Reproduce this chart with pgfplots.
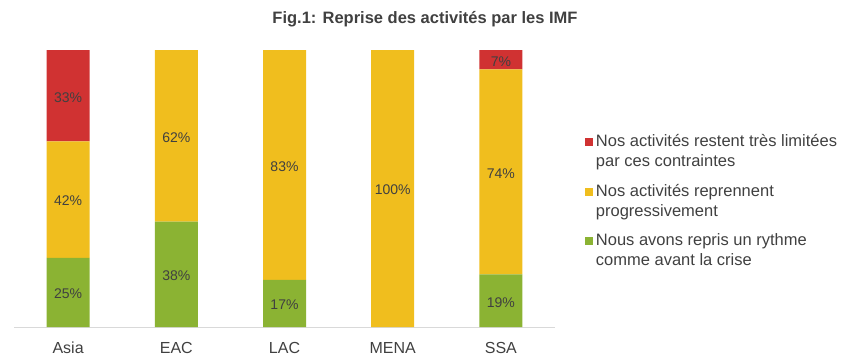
\documentclass[border=0pt]{standalone}
\usepackage{pgfplots}
\pgfplotsset{compat=1.18}
\usepackage{fontspec}
\setmainfont{Liberation Sans}
\definecolor{cred}{HTML}{D03232}
\definecolor{cyel}{HTML}{F0BE1E}
\definecolor{cgrn}{HTML}{8BB333}
\definecolor{ctxt}{HTML}{404040}
\definecolor{caxis}{HTML}{D9D9D9}
\pgfplotstableread{
x y
0 25
1 38
2 17
3 0
4 19
}\green
\pgfplotstableread{
x y
0 42
1 62
2 83
3 100
4 74
}\yellow
\pgfplotstableread{
x y
0 33
1 0
2 0
3 0
4 7
}\red
\begin{document}
\begin{tikzpicture}[x=1pt,y=1pt]
\path[use as bounding box] (0,0) rectangle (850,362);
\node[font=\bfseries\fontsize{16.5}{18}\selectfont, text=ctxt] at (425,343) {Fig.1: Reprise des activités par les IMF};
\begin{axis}[
  at={(14pt,35pt)}, anchor=south west,
  scale only axis, width=541pt, height=277pt,
  ybar stacked, bar width=43pt,
  ymin=0, ymax=100, xmin=-0.5, xmax=4.5,
  axis y line=none, axis x line*=bottom,
  x axis line style={caxis, line width=1pt, -},
  xtick=data, xticklabels={Asia,EAC,LAC,MENA,SSA},
  major tick length=0pt,
  xticklabel style={font=\fontsize{16}{18}\selectfont, text=ctxt, anchor=base, yshift=-26pt},
  point meta=explicit symbolic,
  nodes near coords={\ifnum\pgfplotspointmeta>0 \pgfplotspointmeta\%\fi},
  every node near coord/.append style={font=\fontsize{14}{16}\selectfont, text=ctxt, yshift=-1.5pt},
  legend cell align=left,
  legend style={draw=none, fill=none, at={(1.055,0.455)}, anchor=west, inner sep=0pt, row sep=12pt,
    nodes={align=left, font=\fontsize{16.5}{20}\selectfont, text=ctxt, inner xsep=3pt}},
  reverse legend,
  legend image code/.code={\fill[#1, draw=none] (0pt,5.5pt) rectangle (8pt,13.5pt);},
]
\addplot[fill=cgrn, draw=none] table[x=x,y=y,meta=y] {\green};
\addplot[fill=cyel, draw=none] table[x=x,y=y,meta=y] {\yellow};
\addplot[fill=cred, draw=none] table[x=x,y=y,meta=y] {\red};
\legend{Nous avons repris un rythme\\comme avant la crise,
        Nos activités reprennent\\progressivement,
        Nos activités restent très limitées\\par ces contraintes}
\end{axis}
\end{tikzpicture}
\end{document}
